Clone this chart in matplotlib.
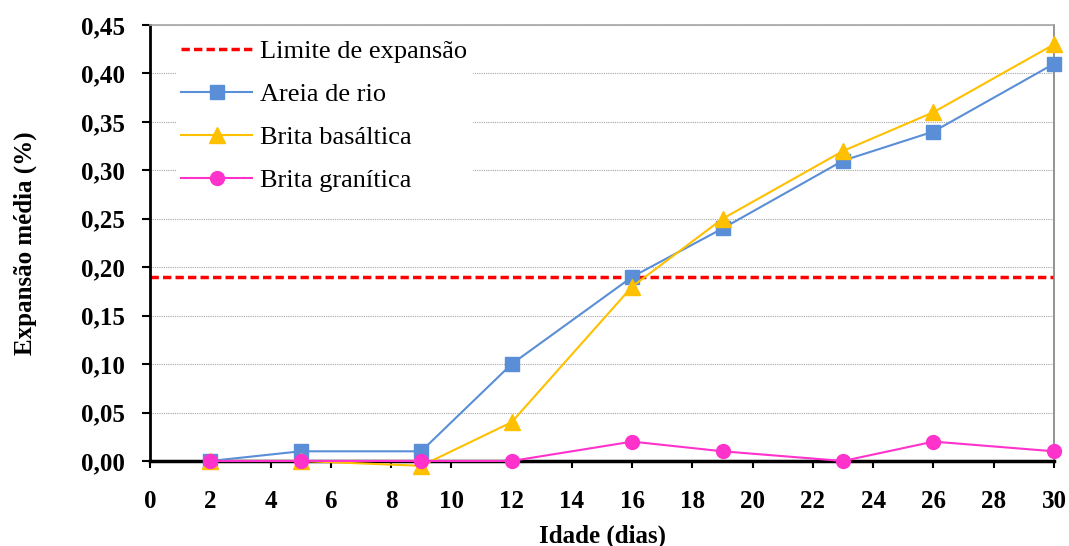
import matplotlib
matplotlib.use("Agg")
import matplotlib.pyplot as plt
from matplotlib.ticker import FuncFormatter

# data
idade = [2, 5, 9, 12, 16, 19, 23, 26, 30]
areia_rio = [0.0, 0.01, 0.01, 0.10, 0.19, 0.24, 0.31, 0.34, 0.41]
brita_basaltica = [0.0, 0.0, -0.005, 0.04, 0.18, 0.25, 0.32, 0.36, 0.43]
brita_granitica = [0.0, 0.0, 0.0, 0.0, 0.02, 0.01, 0.0, 0.02, 0.01]
limite = 0.19
x_ticks = list(range(0, 31, 2))
y_ticks = [i * 0.05 for i in range(10)]

plt.rcParams['font.family'] = ['Liberation Serif', 'DejaVu Serif']

fig = plt.figure(figsize=(10.69, 5.46), dpi=100)
ax = fig.add_axes([0.1403, 0.1557, 0.8457, 0.7985])

# gridlines
for y in y_ticks[1:]:
    ax.axhline(y, color='#a6a6a6', lw=0.8, ls=(0, (1, 1)), zorder=0)

ax.plot([0, 30], [limite, limite], color='#ff0000', lw=2.5, ls=(0, (2.4, 1.2)),
        label='Limite de expansão', zorder=2)
ax.plot(idade, areia_rio, color='#5a8ed6', lw=1.5, marker='s', ms=10,
        label='Areia de rio', zorder=3, clip_on=False)
ax.plot(idade, brita_basaltica, color='#ffc000', lw=1.5, marker='^', ms=11,
        label='Brita basáltica', zorder=3, clip_on=False)
ax.plot(idade, brita_granitica, color='#ff33cc', lw=1.5, marker='o', ms=10,
        label='Brita granítica', zorder=4, clip_on=False)

ax.set_xlim(0, 30)
ax.set_ylim(0, 0.45)
ax.set_xticks(x_ticks)
ax.set_yticks(y_ticks)
ax.yaxis.set_major_formatter(FuncFormatter(lambda v, p: f"{v:.2f}".replace('.', ',')))

for lab in ax.get_xticklabels() + ax.get_yticklabels():
    lab.set_fontweight('bold')
ax.tick_params(axis='both', labelsize=18, width=1.5, color='black', direction='out')
ax.tick_params(axis='x', length=5, pad=16)
ax.tick_params(axis='y', length=6, pad=12)

ax.spines['left'].set_linewidth(2)
ax.spines['bottom'].set_linewidth(2.5)
ax.spines['bottom'].set_zorder(2.5)
ax.spines['top'].set_color('#a6a6a6')
ax.spines['right'].set_color('#808080')
ax.spines['top'].set_linewidth(1.2)
ax.spines['right'].set_linewidth(1.2)

ax.set_xlabel('Idade (dias)', fontsize=18, fontweight='bold', labelpad=8)
ax.set_ylabel('Expansão média (%)', fontsize=18, fontweight='bold', labelpad=32)

leg = ax.legend(loc='upper left', bbox_to_anchor=(0.011, 1.014), fontsize=19, frameon=True,
                fancybox=False, edgecolor='none', facecolor='white', framealpha=1,
                handlelength=2.7, handletextpad=0.3, labelspacing=0.74,
                borderpad=0.2, borderaxespad=0.6)
leg.set_zorder(5)

fig.savefig('out.png', dpi=100)
